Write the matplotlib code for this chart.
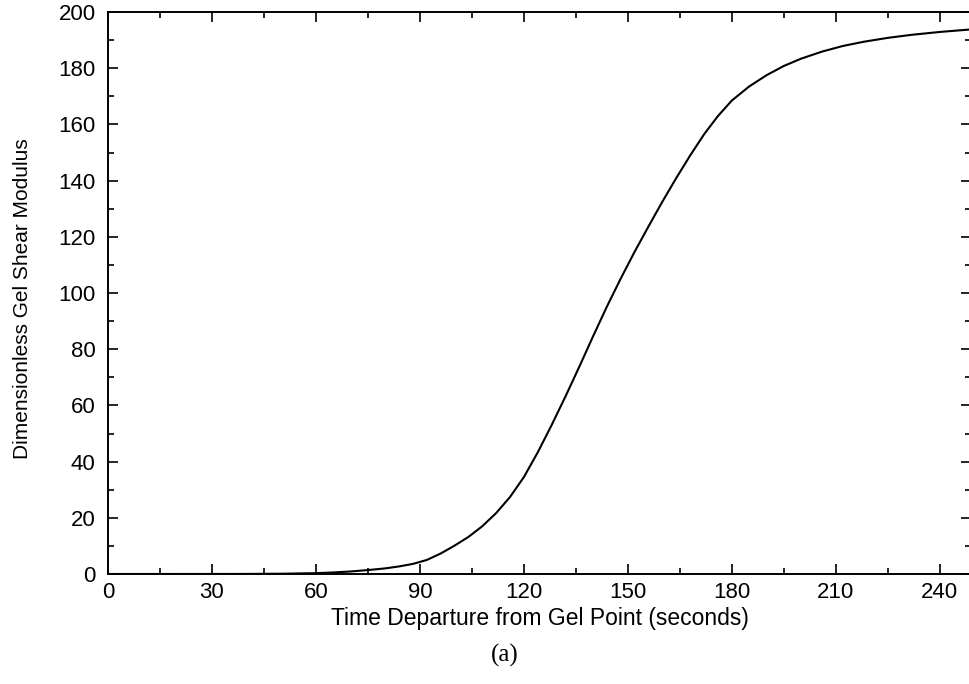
import numpy as np
import matplotlib
matplotlib.use('Agg')
import matplotlib.pyplot as plt
from matplotlib.ticker import MultipleLocator

# gel shear modulus vs time after gel point (read values)
time_s = [0, 30, 40, 50, 60, 65, 70, 75, 80, 84, 88, 92, 96, 100, 104, 108,
          112, 116, 120, 124, 128, 132, 136, 140, 144, 148, 152, 156, 160,
          164, 168, 172, 176, 180, 185, 190, 195, 200, 206, 212, 218, 225,
          232, 240, 249]
modulus = [0, 0.01, 0.03, 0.1, 0.3, 0.55, 0.9, 1.4, 2.0, 2.7, 3.6, 5.0, 7.3,
           10.1, 13.2, 17.0, 21.7, 27.4, 34.5, 43.3, 53.0, 63.2, 73.8, 84.7,
           95.3, 105.3, 114.8, 123.8, 132.6, 141.0, 149.0, 156.5, 163.0,
           168.5, 173.5, 177.5, 180.8, 183.4, 185.9, 187.9, 189.4, 190.8,
           191.9, 192.9, 193.8]

xticks = [0, 30, 60, 90, 120, 150, 180, 210, 240]
yticks = [0, 20, 40, 60, 80, 100, 120, 140, 160, 180, 200]

plt.rcParams['font.family'] = ['Liberation Sans', 'DejaVu Sans']

fig = plt.figure(figsize=(9.7, 6.84), dpi=100)
ax = fig.add_axes([108 / 970, 1 - 574 / 684, (971 - 108) / 970, (574 - 12) / 684])

ax.plot(time_s, modulus, color='black', lw=1.5)

ax.set_xlim(0, 249)
ax.set_ylim(0, 200)
ax.set_xticks(xticks)
ax.set_yticks(yticks)
ax.xaxis.set_minor_locator(MultipleLocator(15))
ax.yaxis.set_minor_locator(MultipleLocator(10))
ax.tick_params(which='both', direction='in', top=True, right=True,
               labelsize=16, width=1.2, color='black')
ax.tick_params(which='major', length=7)
ax.tick_params(which='minor', length=4)
ax.tick_params(axis='x', pad=6)
ax.tick_params(axis='y', pad=9)
for s in ax.spines.values():
    s.set_linewidth(1.4)

ax.set_xlabel('Time Departure from Gel Point (seconds)', fontsize=16.5)
ax.xaxis.set_label_coords(0.5, -0.058)
ax.set_ylabel('Dimensionless Gel Shear Modulus', fontsize=15)
ax.yaxis.set_label_coords(-0.088, 0.49)

fig.text(505 / 970, 1 - 655 / 684, '(a)', family='Liberation Serif',
         fontsize=18, ha='center', va='center')

fig.savefig('out.png', dpi=100)
